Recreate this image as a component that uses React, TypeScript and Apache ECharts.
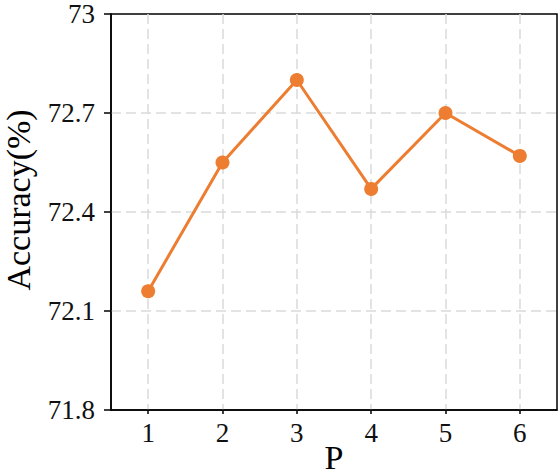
import React, { useEffect, useRef } from "react";
import * as echarts from "echarts";

const categories: string[] = ["1", "2", "3", "4", "5", "6"];
const accuracy: number[] = [72.16, 72.55, 72.8, 72.47, 72.7, 72.57];
const yMin = 71.8;
const yMax = 73;
const yInterval = 0.3;
const xName = "P";
const yName = "Accuracy(%)";

export default function App() {
  const ref = useRef<HTMLDivElement>(null);
  useEffect(() => {
    if (!ref.current) return;
    const chart = echarts.init(ref.current, undefined, { renderer: "svg" });
    const font = "'Liberation Serif', 'Times New Roman', serif";
    const gridLineStyle = { color: "#dadada", width: 1.5, type: [10, 5] as any };
    chart.setOption({
      animation: false,
      backgroundColor: "#fff",
      grid: {
        left: 111,
        right: 2,
        top: 14,
        bottom: 61,
        outerBoundsMode: "none",
        containLabel: false,
        show: true,
        borderColor: "#000",
        borderWidth: 1.5,
        backgroundColor: "transparent",
      },
      xAxis: {
        type: "category",
        data: categories,
        boundaryGap: true,
        name: xName,
        nameLocation: "middle",
        nameGap: 34,
        nameMoveOverlap: false,
        nameTextStyle: { fontFamily: font, fontSize: 34, lineHeight: 26, color: "#000" },
        axisLine: { show: true, lineStyle: { color: "#000", width: 1.5 } },
        axisTick: { show: true, alignWithLabel: true, length: 4, lineStyle: { color: "#000", width: 1.5 } },
        axisLabel: { fontFamily: font, fontSize: 27, color: "#111", margin: 9 },
        splitLine: { show: true, alignWithLabel: true, lineStyle: gridLineStyle },
      },
      yAxis: {
        type: "value",
        min: yMin,
        max: yMax,
        interval: yInterval,
        name: yName,
        nameLocation: "middle",
        nameGap: 76,
        nameMoveOverlap: false,
        nameTextStyle: { fontFamily: font, fontSize: 34, color: "#000", padding: [0, 0, 0, 24] },
        axisLine: { show: true, lineStyle: { color: "#000", width: 1.5 } },
        axisTick: { show: true, length: 7, lineStyle: { color: "#000", width: 1.5 } },
        axisLabel: {
          fontFamily: font,
          fontSize: 27,
          color: "#111",
          margin: 16,
          formatter: (v: number) => String(parseFloat(v.toFixed(1))),
        },
        splitLine: { show: true, showMinLine: false, showMaxLine: false, lineStyle: gridLineStyle },
      },
      series: [
        {
          type: "line",
          data: accuracy,
          symbol: "circle",
          symbolSize: 14,
          lineStyle: { color: "#ED7D31", width: 3 },
          itemStyle: { color: "#ED7D31" },
        },
      ],
    });
    return () => chart.dispose();
  }, []);
  return (
    <div
      ref={ref}
      style={{ position: "fixed", left: 0, top: 0, width: 559, height: 471 }}
    />
  );
}
